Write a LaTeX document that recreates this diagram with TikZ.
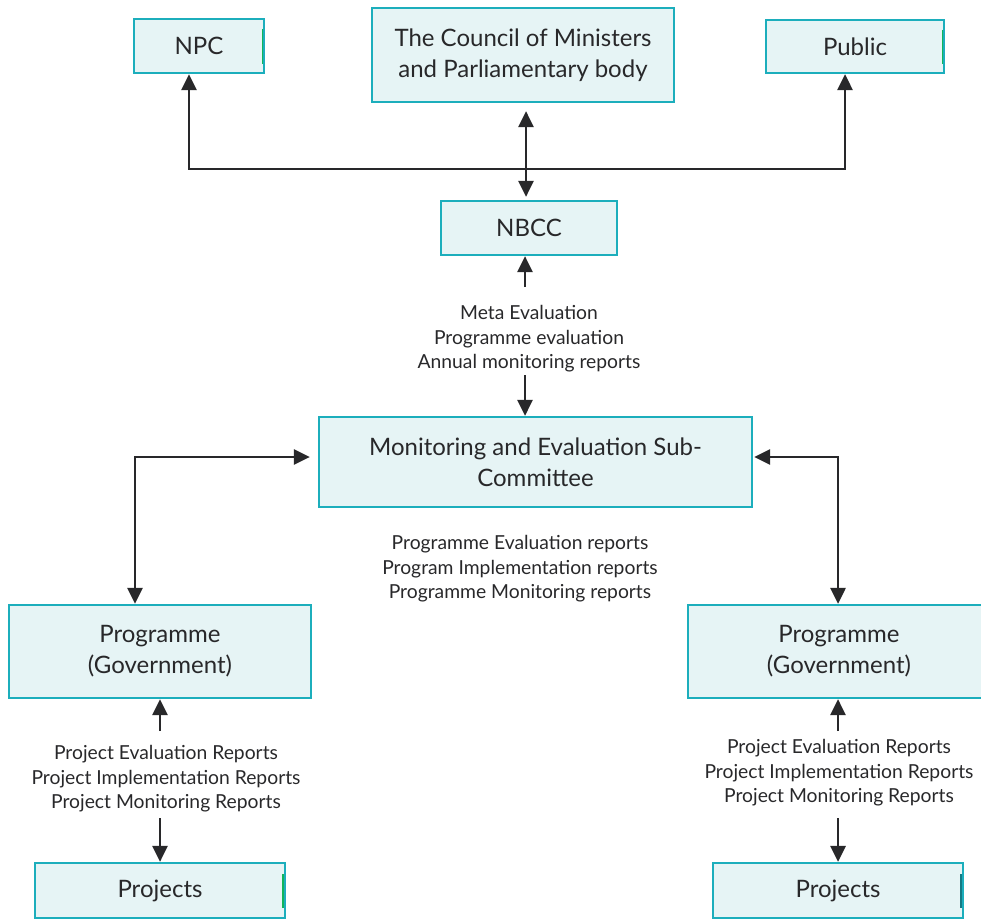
\documentclass[tikz,border=0pt]{standalone}
\usepackage{fontspec}
\setmainfont{Lato}
\usetikzlibrary{arrows.meta}
\definecolor{boxfill}{RGB}{230,244,245}
\definecolor{boxline}{RGB}{28,174,188}
\definecolor{inkgray}{RGB}{40,40,42}
\definecolor{edgegreen}{RGB}{20,180,90}
\begin{document}
\begin{tikzpicture}[x=1pt,y=-1pt,
  box/.style={draw=boxline,fill=boxfill,line width=2.2pt,align=center,
    text=inkgray,font=\fontsize{24}{31}\selectfont,inner sep=0pt},
  lbl/.style={align=center,text=inkgray,font=\fontsize{19.3}{24.6}\selectfont,inner sep=0pt},
  flow/.style={draw=inkgray,line width=2.8pt,-{Triangle[length=16pt,width=15pt]}},
  flow2/.style={draw=inkgray,line width=2.8pt,{Triangle[length=16pt,width=15pt]}-{Triangle[length=16pt,width=15pt]}},
  edgemark/.style={draw=edgegreen,line width=1.6pt}]
\useasboundingbox (0,0) rectangle (981,920);

% boxes
\node[box,minimum width=130pt,minimum height=54pt] (npc) at (199,46) {NPC};
\node[box,minimum width=302pt,minimum height=94pt] (council) at (523,55) {The Council of Ministers\\and Parliamentary body};
\node[box,minimum width=178pt,minimum height=53pt] (pub) at (855,46.5) {Public};
\node[box,minimum width=176pt,minimum height=54pt] (nbcc) at (529,228) {NBCC};
\node[box,minimum width=433pt,minimum height=90pt] (me) at (535.5,462) {Monitoring and Evaluation Sub-\\Committee};
\node[box,minimum width=302pt,minimum height=93pt] (progL) at (160,651.5) {Programme\\(Government)};
\node[box,minimum width=302pt,minimum height=93pt] (progR) at (839,651.5) {Programme\\(Government)};
\node[box,minimum width=250pt,minimum height=55pt] (projL) at (160,890.5) {Projects};
\node[box,minimum width=250pt,minimum height=55pt] (projR) at (838,890.5) {Projects};

% small marks on right edges
\draw[edgemark] (262.5,29) -- (262.5,64);
\draw[edgemark] (942.5,30) -- (942.5,64);
\draw[edgemark] (283,874) -- (283,908);
\draw[edgemark,draw=boxline!70!black] (961,874) -- (961,908);

% labels
\node[lbl] (lblTop) at (529,339) {Meta Evaluation\\Programme evaluation\\Annual monitoring reports};
\node[lbl] (lblMid) at (520,569) {Programme Evaluation reports\\Program Implementation reports\\Programme Monitoring reports};
\node[lbl] (lblL) at (166,779) {Project Evaluation Reports\\Project Implementation Reports\\Project Monitoring Reports};
\node[lbl] (lblR) at (839,773) {Project Evaluation Reports\\Project Implementation Reports\\Project Monitoring Reports};

% top distribution
\coordinate (jL) at (189,169);
\coordinate (jR) at (845,169);
\draw[flow2] (jL |- npc.south) -- (jL) -- (jR) -- (jR |- pub.south);
\draw[flow2] ([xshift=3pt,yshift=-8pt]council.south) -- ([xshift=-3pt,yshift=3pt]nbcc.north);

% NBCC <-> sub-committee
\coordinate (aT1) at (525,287);
\coordinate (aT2) at (525,375);
\draw[flow] (aT1) -- (aT1 |- nbcc.south);
\draw[flow] (aT2) -- (aT2 |- me.north);

% sub-committee <-> programmes
\coordinate (cL) at (135,457);
\coordinate (cR) at (838,457);
\draw[flow2] (cL |- progL.north) -- (cL) -- ([xshift=-8pt]me.west |- cL);
\draw[flow2] (cR |- progR.north) -- (cR) -- ([xshift=1pt]me.east |- cR);

% programmes <-> projects
\coordinate (pL1) at (160,731);
\coordinate (pL2) at (160,818);
\coordinate (pR1) at (838,731);
\coordinate (pR2) at (838,818);
\draw[flow] (pL1) -- (pL1 |- progL.south);
\draw[flow] (pL2) -- (pL2 |- projL.north);
\draw[flow] (pR1) -- (pR1 |- progR.south);
\draw[flow] (pR2) -- (pR2 |- projR.north);
\end{tikzpicture}
\end{document}
